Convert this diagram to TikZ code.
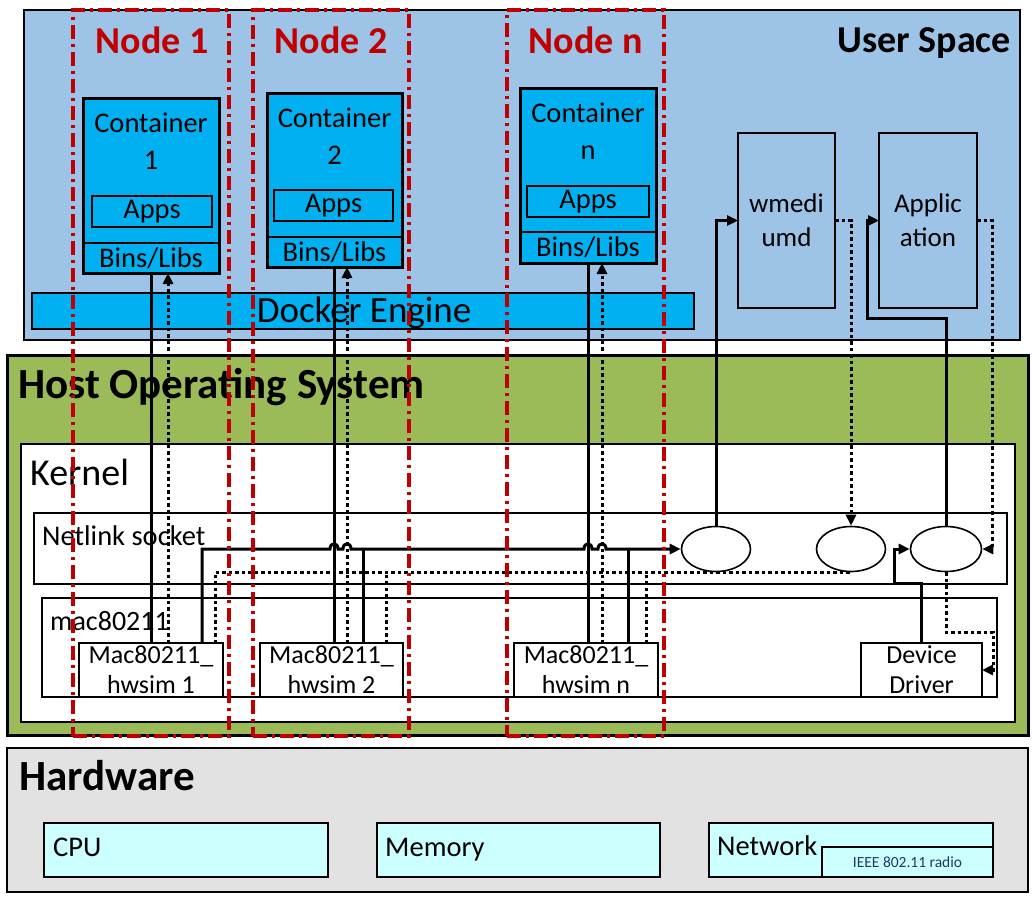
\documentclass[tikz,border=0pt]{standalone}
\usepackage{fontspec}
\setmainfont{Carlito}
\usetikzlibrary{arrows.meta,shapes.geometric,fit}
\definecolor{userbg}{RGB}{157,195,230}
\definecolor{dockbg}{RGB}{0,176,240}
\definecolor{hostbg}{RGB}{155,187,89}
\definecolor{hwbg}{RGB}{226,226,226}
\definecolor{devbg}{RGB}{204,255,255}
\definecolor{nodered}{RGB}{192,0,0}
\definecolor{radiotxt}{RGB}{31,56,100}
\begin{document}
\begin{tikzpicture}[x=1pt,y=-1pt,
  blk/.style={draw=black, line width=#1, inner sep=0pt, outer sep=0pt},
  blk/.default=2.2pt,
  hdr/.style={font=\bfseries\fontsize{43}{46}\selectfont, inner sep=0pt},
  t36/.style={font=\fontsize{38}{40}\selectfont, inner sep=0pt},
  t28/.style={font=\fontsize{28.5}{37}\selectfont, inner sep=0pt},
  t27/.style={font=\fontsize{27}{34}\selectfont, inner sep=0pt},
  t26/.style={font=\fontsize{26}{30}\selectfont, inner sep=0pt},
  conn/.style={line width=3pt, draw=black},
  dotc/.style={line width=3pt, draw=black, dash pattern=on 3.5pt off 3pt},
  arr/.style={-{Triangle[length=11pt,width=10pt]}},
  nodebox/.style={draw=nodered, line width=3.2pt, dash pattern=on 14pt off 5pt on 3pt off 5pt, inner sep=0pt, outer sep=0pt},
  nodelbl/.style={font=\bfseries\fontsize{38}{40}\selectfont, text=nodered, inner sep=0pt},
  elli/.style={ellipse, draw=black, line width=1.6pt, fill=white, minimum height=45pt, inner sep=0pt}
]
\useasboundingbox (0,0) rectangle (1032,900);
\fill[white] (0,0) rectangle (1032,900);

% ---------- User space ----------
\node[blk=2.4pt, fill=userbg, fit={(24,10)(1020,340)}] (user) {};
\node[font=\bfseries\fontsize{38}{40}\selectfont, inner sep=0pt, anchor=base east] (userlbl) at (1011,52) {User Space};

% containers
\node[blk=3pt, fill=dockbg, fit={(83,98)(219,273)}] (c1) {};
\draw[line width=2.5pt] (c1.west |- 0,243) -- (c1.east |- 0,243);
\node[blk=2.5pt, fit={(92,196)(212,227)}] (a1) {};
\node[t28] (a1t) at (a1.center) {Apps};
\node[t28] (bl1) at (151,258) {Bins/Libs};
\node[t28, align=center, anchor=north] (ct1) at (151,113) {Container\\1};

\node[blk=3pt, fill=dockbg, fit={(267,93)(402,267)}] (c2) {};
\draw[line width=2.5pt] (c2.west |- 0,237) -- (c2.east |- 0,237);
\node[blk=2.5pt, fit={(274,190)(393,221)}] (a2) {};
\node[t28] (a2t) at (a2.center) {Apps};
\node[t28] (bl2) at (334.5,252) {Bins/Libs};
\node[t28, align=center, anchor=north] (ct2) at (334.5,108) {Container\\2};

\node[blk=3pt, fill=dockbg, fit={(520,88)(656,263)}] (cn) {};
\draw[line width=2.5pt] (cn.west |- 0,232) -- (cn.east |- 0,232);
\node[blk=2.5pt, fit={(527,186)(649,217)}] (an) {};
\node[t28] (ant) at (an.center) {Apps};
\node[t28] (bln) at (588,247.5) {Bins/Libs};
\node[t28, align=center, anchor=north] (ctn) at (588,103) {Container\\n};

\node[blk=2.5pt, fill=dockbg, fit={(32,293)(694,329)}] (docker) {};
\node[font=\fontsize{37}{40}\selectfont, inner sep=0pt, anchor=base] (dockerlbl) at (364,322) {Docker Engine};

\node[blk, fit={(738,133)(835,308)}] (wm) {};
\node[t27, align=center] (wmt) at (wm.center) {wmedi\\umd};
\node[blk, fit={(879,133)(977,308)}] (app) {};
\node[t27, align=center] (appt) at (app.center) {Applic\\ation};

% ---------- Host OS ----------
\node[blk=3pt, fill=hostbg, fit={(7,355)(1028,735)}] (host) {};
\node[hdr, anchor=base west] (hostlbl) at (18,398) {Host Operating System};
\node[blk=2.5pt, fill=white, fit={(21,444)(1015,722)}] (kernel) {};
\node[t36, anchor=base west] (kernellbl) at (30,485) {Kernel};
\node[blk, fill=white, fit={(34,513)(1007,584)}] (netlink) {};
\node[font=\fontsize{28.5}{34}\selectfont, inner sep=0pt, anchor=base west] (netlinklbl) at (42,545) {Netlink socket};
\node[blk, fill=white, fit={(42,598)(997,697)}] (mac) {};
\node[font=\fontsize{28}{34}\selectfont, inner sep=0pt, anchor=base west] (maclbl) at (50,630) {mac80211};

\node[blk, fill=white, fit={(79,643)(223,697)}] (hw1) {};
\node[t26, align=center] (hw1t) at (hw1.center) {Mac80211\_\\hwsim 1};
\node[blk, fill=white, fit={(260,643)(403,697)}] (hw2) {};
\node[t26, align=center] (hw2t) at (hw2.center) {Mac80211\_\\hwsim 2};
\node[blk, fill=white, fit={(514,643)(658,697)}] (hwn) {};
\node[t26, align=center] (hwnt) at (hwn.center) {Mac80211\_\\hwsim n};
\node[blk, fill=white, fit={(861,643)(982,697)}] (dd) {};
\node[t26, align=center] (ddt) at (dd.center) {Device\\Driver};

\node[elli, minimum width=69pt] (e1) at (716,549) {};
\node[elli, minimum width=69pt] (e2) at (851,549) {};
\node[elli, minimum width=71pt] (e3) at (946,549) {};

% ---------- Hardware ----------
\node[blk=2.5pt, fill=hwbg, fit={(7,748)(1028,892)}] (hw) {};
\node[hdr, anchor=base west] (hwlbl) at (19,790) {Hardware};
\node[blk=2.5pt, fill=devbg, fit={(44,823)(328,877)}] (cpu) {};
\node[t28, anchor=base west] (cpulbl) at (53,856) {CPU};
\node[blk=2.5pt, fill=devbg, fit={(377,823)(660,877)}] (mem) {};
\node[t28, anchor=base west] (memlbl) at (385,856) {Memory};
\node[blk=2.5pt, fill=devbg, fit={(709,823)(993,877)}] (net) {};
\node[t28, anchor=base west] (netlbl) at (717,855) {Network};
\node[blk=1.6pt, fill=devbg, fit={(822,847)(993,877)}] (radio) {};
\node[font=\fontsize{15.5}{17}\selectfont, text=radiotxt, inner sep=0pt] (radiot) at (radio.center) {IEEE 802.11 radio};

% ---------- connector anchor points ----------
\coordinate (s1) at ([xshift=72pt]hw1.north west);
\coordinate (d1) at ([xshift=89pt]hw1.north west);
\coordinate (b1) at ([xshift=123pt]hw1.north west);
\coordinate (r1) at ([xshift=136pt]hw1.north west);
\coordinate (s2) at ([xshift=74pt]hw2.north west);
\coordinate (d2) at ([xshift=87pt]hw2.north west);
\coordinate (b2) at ([xshift=103pt]hw2.north west);
\coordinate (r2) at ([xshift=126pt]hw2.north west);
\coordinate (sn) at ([xshift=74pt]hwn.north west);
\coordinate (dn) at ([xshift=88pt]hwn.north west);
\coordinate (bn) at ([xshift=114pt]hwn.north west);
\coordinate (rn) at ([xshift=132pt]hwn.north west);
\coordinate (k1) at (867,318);
\coordinate (k2) at (992,0);
\coordinate (k3) at (894,583);
\coordinate (k4) at (993,632);

% vertical links to containers
\draw[conn] (s1) -- (s1 |- c1.south);
\draw[dotc, arr] (d1) -- (d1 |- c1.south);
\draw[conn] (s2) -- (s2 |- c2.south);
\draw[dotc, arr] (d2) -- (d2 |- c2.south);
\draw[conn] (sn) -- (sn |- cn.south);
\draw[dotc, arr] (dn) -- (dn |- cn.south);

% return (dotted) bus
\draw[dotc] (r1) |- (e2.south);
\draw[dotc] (r2) -- (r2 |- e2.south);
\draw[dotc] (rn) -- (rn |- e2.south);

% forward (solid) bus with hops
\draw[conn, arr] (b1) -- (b1 |- e1.west)
  -- (330,549) .. controls (330,542) and (338,542) .. (338,549)
  -- (343,549) .. controls (343,542) and (351,542) .. (351,549)
  -- (584,549) .. controls (584,542) and (592,542) .. (592,549)
  -- (598,549) .. controls (598,542) and (606,542) .. (606,549)
  -- (e1.west);
\draw[conn] (b2) -- (b2 |- e1.west);
\draw[conn] (bn) -- (bn |- e1.west);

% wmediumd
\draw[conn, arr] (e1.north) |- (wm.west);
\draw[dotc, arr] (wm.east) -| (e2.north);

% application
\draw[conn, arr] (e3.north) |- (k1) |- (app.west);
\draw[dotc, arr] (app.east) -| (k2 |- e3.east) -- (e3.east);

% device driver
\draw[conn, arr] (dd.north) |- (k3) |- (e3.west);
\draw[dotc, arr] (e3.south) |- (k4) |- (dd.east);

% ---------- node groups ----------
\node[nodebox, fit={(73,10)(229,736)}] (n1) {};
\node[nodebox, fit={(253,10)(409,736)}] (n2) {};
\node[nodebox, fit={(507,10)(664,736)}] (nn) {};
\node[nodelbl] (n1lbl) at (152,40) {Node 1};
\node[nodelbl] (n2lbl) at (331,40) {Node 2};
\node[nodelbl] (nnlbl) at (585.5,40) {Node n};
\end{tikzpicture}
\end{document}
